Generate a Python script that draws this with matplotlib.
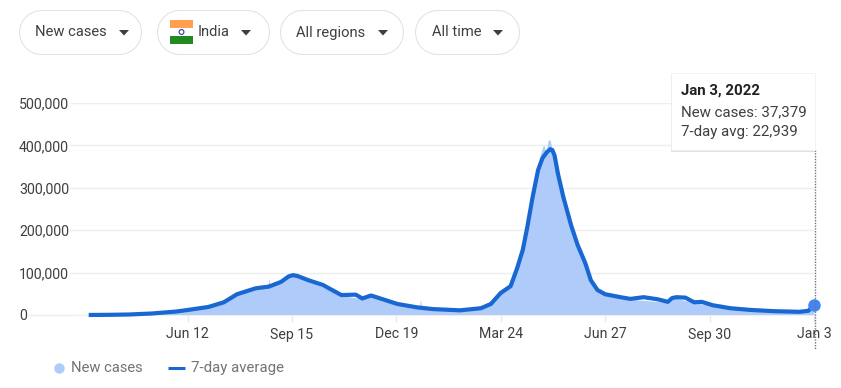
# -*- coding: utf-8 -*-
import matplotlib
matplotlib.use('Agg')
from matplotlib import pyplot as plt
from matplotlib import dates as mdates
from matplotlib.patches import Rectangle, Circle
import pandas as pd

# 7-day average
avg_dates = ['2020-03-14', '2020-04-01', '2020-04-20', '2020-05-10', '2020-06-01', '2020-06-12',
             '2020-07-01', '2020-07-15', '2020-07-27', '2020-08-13', '2020-08-25', '2020-09-05',
             '2020-09-12', '2020-09-16', '2020-09-20', '2020-09-30', '2020-10-13', '2020-10-30',
             '2020-11-12', '2020-11-18', '2020-11-26', '2020-12-20', '2021-01-07', '2021-01-21',
             '2021-02-15', '2021-03-06', '2021-03-15', '2021-03-24', '2021-04-02', '2021-04-08',
             '2021-04-13', '2021-04-17', '2021-04-22', '2021-04-27', '2021-05-01', '2021-05-05',
             '2021-05-08', '2021-05-10', '2021-05-12', '2021-05-15', '2021-05-20', '2021-05-27',
             '2021-06-02', '2021-06-09', '2021-06-14', '2021-06-20', '2021-06-27', '2021-07-11',
             '2021-07-20', '2021-08-01', '2021-08-14', '2021-08-23', '2021-08-27', '2021-08-31',
             '2021-09-08', '2021-09-16', '2021-09-23', '2021-10-03', '2021-10-19', '2021-11-06',
             '2021-11-28', '2021-12-21', '2021-12-29', '2022-01-03']
avg_values = [100, 400, 1200, 3500, 8000, 11800,
              19000, 30000, 49000, 63000, 67000, 78000,
              91000, 94000, 92000, 82000, 71000, 47000,
              48000, 39000, 46000, 26000, 18000, 14000,
              11000, 16000, 26000, 52000, 68000, 111000,
              153000, 205000, 278000, 342000, 370000, 384000,
              391000, 389000, 376000, 334000, 278000, 212000,
              165000, 122000, 82000, 59000, 49000, 42000,
              38000, 42000, 37000, 31000, 40000, 42000,
              41000, 30000, 31000, 23000, 16000, 12000,
              9000, 7500, 10000, 22939]

# Daily new cases, with the visible spikes
case_dates = ['2020-03-14', '2020-04-01', '2020-05-10', '2020-06-12', '2020-07-15', '2020-07-27',
              '2020-08-13', '2020-08-24', '2020-08-25', '2020-08-26', '2020-09-16', '2020-09-30',
              '2020-10-30', '2020-11-18', '2020-11-26', '2020-12-20', '2021-01-09', '2021-01-10',
              '2021-01-11', '2021-01-14', '2021-01-15', '2021-01-16', '2021-02-15', '2021-03-15',
              '2021-03-24', '2021-04-02', '2021-04-08', '2021-04-13', '2021-04-17', '2021-04-22',
              '2021-04-27', '2021-04-29', '2021-05-01', '2021-05-02', '2021-05-03', '2021-05-04',
              '2021-05-05', '2021-05-06', '2021-05-07', '2021-05-08', '2021-05-09', '2021-05-12',
              '2021-05-15', '2021-05-20', '2021-05-27', '2021-06-02', '2021-06-09', '2021-06-14',
              '2021-06-27', '2021-07-20', '2021-08-23', '2021-08-30', '2021-09-16', '2021-10-19',
              '2021-11-28', '2021-12-21', '2021-12-29', '2022-01-01', '2022-01-03']
case_values = [100, 400, 3500, 11500, 30000, 50000,
               63000, 68000, 86000, 68000, 93000, 81000,
               46000, 38000, 44000, 25000, 18000, 38000,
               16000, 16000, 24000, 14000, 11000, 27000,
               56000, 74000, 126000, 170000, 226000, 300000,
               355000, 378000, 395000, 402000, 395000, 380000,
               395000, 410000, 414000, 412000, 400000, 368000,
               325000, 268000, 205000, 155000, 115000, 78000,
               48000, 37000, 30000, 40000, 29000, 15000,
               8500, 7000, 9500, 22000, 37379]

y_ticks = [0, 100000, 200000, 300000, 400000, 500000]
x_tick_dates = ['2020-06-12', '2020-09-15', '2020-12-19', '2021-03-24', '2021-06-27', '2021-09-30', '2022-01-03']
x_tick_labels = ['Jun 12', 'Sep 15', 'Dec 19', 'Mar 24', 'Jun 27', 'Sep 30', 'Jan 3']

chips = ['New cases', 'India', 'All regions', 'All time']

W, H = 841, 388
plt.rcParams['font.family'] = ['Roboto', 'DejaVu Sans']

fig = plt.figure(figsize=(W / 100, H / 100), dpi=100)

# Main chart, placed on the same pixels as the reference
ax = fig.add_axes([70 / W, 1 - 315 / H, (815 - 70) / W, (315 - 103) / H])
days_avg = mdates.date2num(pd.to_datetime(avg_dates))
days_case = mdates.date2num(pd.to_datetime(case_dates))
ax.fill_between(days_case, case_values, 0, color='#aecbfa', linewidth=0, zorder=2)
ax.plot(days_avg, avg_values, color='#1967d2', linewidth=3, solid_capstyle='butt',
        solid_joinstyle='round', zorder=3, clip_on=False)
ax.plot(days_avg[-1], avg_values[-1], marker='o', markersize=9, color='#4285f4',
        markeredgewidth=0, clip_on=False, zorder=5)

ax.set_xlim(mdates.date2num(pd.Timestamp('2020-02-26')), mdates.date2num(pd.Timestamp('2022-01-04')))
ax.set_ylim(0, 500000)
ax.set_yticks(y_ticks)
ax.set_yticklabels([f'{v:,}' for v in y_ticks], fontsize=10.2, color='#3c4043', ha='left')
ax.set_xticks(mdates.date2num(pd.to_datetime(x_tick_dates)))
ax.set_xticklabels(x_tick_labels, fontsize=10.2, color='#3c4043')
ax.tick_params(axis='y', length=0, pad=(70 - 19) * 0.72)
ax.tick_params(axis='x', length=5, width=1, color='#e8eaed', pad=4)
ax.grid(axis='y', color='#eeeeee', linewidth=1, zorder=1)
ax.set_axisbelow(True)
for side in ['top', 'right', 'left']:
    ax.spines[side].set_visible(False)
ax.spines['bottom'].set_color('#eeeeee')
ax.patch.set_alpha(0)

# Overlay in pixel coordinates for the page furniture
ov = fig.add_axes([0, 0, 1, 1], zorder=10)
ov.set_xlim(0, W)
ov.set_ylim(H, 0)
ov.axis('off')

# Baseline runs on to the left, past the 0 label
ov.plot([28, 70], [315, 315], color='#eeeeee', linewidth=1, zorder=1)

# Filter chips, drawn as thick round-capped lines
chip_left = [19, 157, 280, 415]
chip_right = [142, 270, 404, 520]
chip_text = [35.5, 198, 296.5, 432]
chip_arrow = [124, 246, 383, 498]
for name, x0, x1, xt, xa in zip(chips, chip_left, chip_right, chip_text, chip_arrow):
    ov.plot([x0 + 22.5, x1 - 22.5], [32.5, 32.5], color='#dfe1e5', linewidth=45 * 0.72,
            solid_capstyle='round', snap=False, zorder=2)
    ov.plot([x0 + 22.5, x1 - 22.5], [32.5, 32.5], color='white', linewidth=43 * 0.72,
            solid_capstyle='round', snap=False, zorder=2.1)
    ov.text(xt, 32.5, name, fontsize=10.6, color='#3c4043', va='center', ha='left', zorder=4)
    ov.fill([xa - 5, xa + 5, xa], [30, 30, 35.5], color='#3c4043', linewidth=0, zorder=4)

# Flag
ov.add_patch(Rectangle((170, 20), 23, 8, fc='#ff9f4f', ec='none', zorder=4))
ov.add_patch(Rectangle((170, 28), 23, 8, fc='white', ec='none', zorder=4))
ov.add_patch(Rectangle((170, 36), 23, 8, fc='#218b21', ec='none', zorder=4))
ov.add_patch(Circle((181.5, 32), 2.4, fc='none', ec='#2a3f8f', linewidth=0.8, zorder=5))

# Hover line and tooltip
ov.plot([814.7, 814.7], [150, 350], color='#70757a', linewidth=1, linestyle=(0, (1, 1)), zorder=3)
ov.add_patch(Rectangle((671.5, 74.5), 144, 77, fc='#cccccc', ec='none', alpha=0.6, zorder=4))
ov.add_patch(Rectangle((671, 73), 144, 77, fc='white', ec='#eeeeee', linewidth=0.5, zorder=4.1))
ov.text(681, 91, 'Jan 3, 2022', fontsize=10.8, fontweight='bold', color='#202124', va='center', zorder=5)
ov.text(681, 112, 'New cases: 37,379', fontsize=10.8, color='#3c4043', va='center', zorder=5)
ov.text(681, 132, '7-day avg: 22,939', fontsize=10.8, color='#3c4043', va='center', zorder=5)

# Legend
ov.plot([59], [368], marker='o', markersize=7.5, color='#aecbfa', markeredgewidth=0)
ov.text(71, 368, 'New cases', fontsize=10.6, color='#70757a', va='center')
ov.plot([168, 185], [368, 368], color='#1967d2', linewidth=2.2, solid_capstyle='butt')
ov.text(191, 368, '7-day average', fontsize=10.8, color='#70757a', va='center')

fig.savefig('out.png', dpi=100)
plt.close(fig)
